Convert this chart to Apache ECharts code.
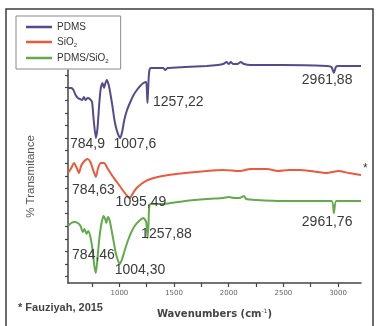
<!DOCTYPE html>
<html><head><meta charset="utf-8">
<script src="https://cdn.jsdelivr.net/npm/echarts@6/dist/echarts.min.js"></script>
<style>html,body{margin:0;padding:0;background:#fff}#c{width:380px;height:326px}</style>
</head><body><div id="c"></div>
<script>
// Wavenumbers (cm-1) and relative transmittance (arbitrary offset units)
const pdmsX = [530,560,580,600,620,640,660,675,690,710,730,750,765,785,800,815,830,845,860,870,885,900,915,935,955,975,995,1008,1025,1045,1070,1100,1130,1160,1190,1220,1245,1252,1257,1262,1268,1275,1285,1400,1420,1440,1600,1800,1900,1950,1980,2000,2020,2040,2080,2110,2140,2200,2500,2900,2940,2962,2980,3000,3210];
const pdmsY = [195,195,193,188,185,184,183,186,183,185,184,181,163,145,155,178,195,200,195,199,203,199,191,178,163,153,147,145,151,163,173,181,188,193,197,200,201,191,180,191,205,213,215,215,213,215,216,217,218,219,221,219,221,219,219,221,219,218,218,217,216,210,216,217,217];
const sio2X = [530,560,585,610,630,650,680,710,735,760,785,805,830,860,890,930,970,1010,1050,1080,1095,1115,1150,1200,1260,1350,1450,1600,1800,1950,2100,2200,2350,2450,2550,2650,2750,2900,2950,3000,3100,3210];
const sio2Y = [110,115,120,115,110,117,122,124,121,113,106,115,120,120,115,108,102,96,90,86,85,88,94,99,103,106,108,110,112,113,112,114,114,112,113,113,112,110,111,112,110,108];
const compX = [530,560,590,620,645,665,680,700,715,735,755,770,785,800,815,835,855,870,880,895,910,925,945,965,985,1004,1025,1050,1080,1110,1140,1180,1220,1245,1258,1266,1272,1285,1400,1600,1800,1950,2000,2050,2100,2140,2160,2250,2500,2940,2962,2985,3210];
const compY = [57,60,61,60,57,51,54,49,52,46,33,18,10,25,43,59,67,64,60,66,63,55,43,31,23,19,24,33,43,51,57,62,65,61,45,58,75,79,79,82,84,85,86,85,85,87,84,83,82,82,70,82,82];

const seriesNames = ['PDMS', 'SiO2', 'PDMS/SiO2'];
const xTicks = [750,1000,1250,1500,1750,2000,2250,2500,2750,3000];
const xTickLabels = [1000,1500,2000,2500,3000];
const yTicks = [6.4,19,31.6,44.2,56.8,69.4,82,94.6,107.2,119.8,132.4,145,157.6,170.2,182.8,195.4,208];

// peak annotations: [text, wavenumber, level]
const pdmsPeaks = [['784,9',708,139],['1007,6',1142,139],['1257,22',1539,181],['2961,88',2900,203]];
const sio2Peaks = [['784,63',763,93],['1095,49',1197,81]];
const compPeaks = [['784,46',763,28],['1004,30',1188,13],['1257,88',1430,49],['2961,76',2900,61]];

const zip = (xs, ys) => xs.map((x, i) => [x, ys[i]]);
const marks = arr => ({
  symbol: 'circle', symbolSize: 0, silent: true,
  label: { show: true, position: 'inside', color: '#3a3a3a', fontSize: 14, fontFamily: 'Liberation Sans' },
  data: arr.map(p => ({ coord: [p[1], p[2]], value: p[0], label: { formatter: p[0] } }))
});
const colors = ['#574a8c', '#ea5a3d', '#62ab4a'];

const chart = echarts.init(document.getElementById('c'), null, { renderer: 'canvas' });
chart.setOption({
  animation: false,
  backgroundColor: '#ffffff',
  grid: { left: 68, right: 19, top: 70, bottom: 43 },
  legend: {
    orient: 'vertical', left: 16, top: 16,
    borderColor: '#8a8a8a', borderWidth: 1, padding: [6, 12, 5, 10],
    itemWidth: 26, itemHeight: 2.5, itemGap: 5, icon: 'rect',
    data: seriesNames,
    formatter: n => n === 'PDMS' ? '{a|PDMS}' : (n === 'SiO2' ? '{a|SiO}{s|2}' : '{a|PDMS/SiO}{s|2}'),
    textStyle: {
      color: '#333', fontFamily: 'Liberation Sans', fontSize: 10,
      rich: { a: { fontSize: 10, color: '#333', lineHeight: 12, fontFamily: 'Liberation Sans' },
              s: { fontSize: 6, color: '#333', lineHeight: 12, verticalAlign: 'bottom', padding: [5, 0, 0, 0], fontFamily: 'Liberation Sans' } }
    }
  },
  xAxis: {
    type: 'value', min: 530, max: 3210,
    name: '{a|Wavenumbers (cm}{s|-1}{a|)}', nameLocation: 'middle', nameGap: 25,
    nameTextStyle: { rich: { a: { fontSize: 10, fontWeight: 'bold', color: '#444', fontFamily: 'DejaVu Sans' },
                             s: { fontSize: 6, color: '#444', verticalAlign: 'top', padding: [0, 0, 6, 0], fontFamily: 'DejaVu Sans' } } },
    axisLine: { lineStyle: { color: '#444', width: 1.5 } },
    axisTick: { show: true, length: 4, customValues: xTicks, lineStyle: { color: '#444', width: 1.2 } },
    axisLabel: { customValues: xTickLabels, formatter: v => String(v), fontSize: 7, color: '#666', margin: 7, fontFamily: 'DejaVu Sans' },
    splitLine: { show: false }
  },
  yAxis: {
    type: 'value', min: 0, max: 213,
    name: '% Transmitance', nameLocation: 'middle', nameGap: 31, nameRotate: 90,
    nameTextStyle: { fontSize: 11.5, color: '#555', fontFamily: 'Liberation Sans' },
    axisLine: { show: true, lineStyle: { color: '#444', width: 1.5 } },
    axisTick: { show: true, length: 3, customValues: yTicks, lineStyle: { color: '#444', width: 1.2 } },
    axisLabel: { show: false },
    splitLine: { show: false }
  },
  series: [
    { name: seriesNames[0], type: 'line', data: zip(pdmsX, pdmsY), showSymbol: false, smooth: 0.2, clip: false,
      lineStyle: { color: colors[0], width: 2 }, itemStyle: { color: colors[0] }, markPoint: marks(pdmsPeaks) },
    { name: seriesNames[1], type: 'line', data: zip(sio2X, sio2Y), showSymbol: false, smooth: 0.2, clip: false,
      lineStyle: { color: colors[1], width: 2 }, itemStyle: { color: colors[1] }, markPoint: marks(sio2Peaks) },
    { name: seriesNames[2], type: 'line', data: zip(compX, compY), showSymbol: false, smooth: 0.2, clip: false,
      lineStyle: { color: colors[2], width: 2 }, itemStyle: { color: colors[2] }, markPoint: marks(compPeaks) }
  ],
  graphic: [
    { type: 'rect', shape: { x: 6, y: 9, width: 367, height: 330 }, style: { fill: 'none', stroke: '#3c3c3c', lineWidth: 1.5 }, silent: true },
    { type: 'text', left: 363, top: 163, style: { text: '*', fontSize: 12, fill: '#333', fontFamily: 'Liberation Sans' } },
    { type: 'text', left: 18, top: 302, style: { text: '* Fauziyah, 2015', fontSize: 11, fontWeight: 'bold', fill: '#444', fontFamily: 'Liberation Sans' } }
  ]
});
</script></body></html>
